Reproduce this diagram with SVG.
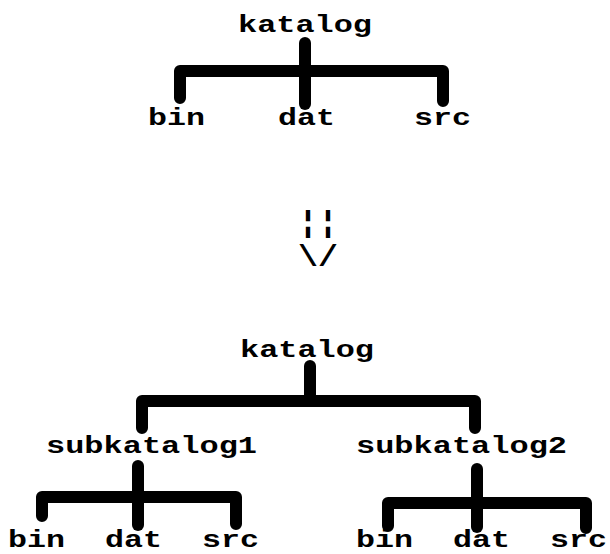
<svg xmlns="http://www.w3.org/2000/svg" width="610" height="554" viewBox="0 0 610 554">
<style>
  .t { font-family: "Liberation Mono", "DejaVu Sans Mono", monospace; font-weight: bold; font-size: 23px; fill: #000; }
  .arw { font-family: "Liberation Mono", "DejaVu Sans Mono", monospace; font-weight: bold; font-size: 30px; fill: #000; }
  .c { fill: none; stroke: #000; stroke-width: 12; stroke-linecap: round; stroke-linejoin: round; }
</style>
<rect width="610" height="554" fill="#fff"/>
<g id="connectors">
  <path class="c" d="M180 98 V71 H443 V101"/>
  <path class="c" d="M305 43 V104"/>
  <path class="c" d="M142 428 V401 H475 V428"/>
  <path class="c" d="M310 366 V401"/>
  <path class="c" d="M42 516 V497 H236 V524"/>
  <path class="c" d="M138 466 V525"/>
  <path class="c" d="M388 526 V503 H586 V528"/>
  <path class="c" d="M477 469 V527"/>
</g>
<g id="top-katalog"><text class="t" x="238" y="32" textLength="134" lengthAdjust="spacingAndGlyphs">katalog</text></g>
<g id="top-bin"><text class="t" x="148" y="125" textLength="57" lengthAdjust="spacingAndGlyphs">bin</text></g>
<g id="top-dat"><text class="t" x="278" y="125" textLength="57" lengthAdjust="spacingAndGlyphs">dat</text></g>
<g id="top-src"><text class="t" x="414" y="125" textLength="57" lengthAdjust="spacingAndGlyphs">src</text></g>
<g id="arrow">
  <text class="arw" x="298" y="232" textLength="40" lengthAdjust="spacingAndGlyphs">¦¦</text>
  <text class="arw" x="298" y="266" textLength="40" lengthAdjust="spacingAndGlyphs">\/</text>
</g>
<g id="bottom-katalog"><text class="t" x="240" y="357" textLength="134" lengthAdjust="spacingAndGlyphs">katalog</text></g>
<g id="subkatalog1"><text class="t" x="46" y="453" textLength="211" lengthAdjust="spacingAndGlyphs">subkatalog1</text></g>
<g id="subkatalog2"><text class="t" x="356" y="453" textLength="211" lengthAdjust="spacingAndGlyphs">subkatalog2</text></g>
<g id="s1-bin"><text class="t" x="8" y="547" textLength="57" lengthAdjust="spacingAndGlyphs">bin</text></g>
<g id="s1-dat"><text class="t" x="105" y="547" textLength="57" lengthAdjust="spacingAndGlyphs">dat</text></g>
<g id="s1-src"><text class="t" x="202" y="547" textLength="57" lengthAdjust="spacingAndGlyphs">src</text></g>
<g id="s2-bin"><text class="t" x="356" y="547" textLength="57" lengthAdjust="spacingAndGlyphs">bin</text></g>
<g id="s2-dat"><text class="t" x="453" y="547" textLength="57" lengthAdjust="spacingAndGlyphs">dat</text></g>
<g id="s2-src"><text class="t" x="550" y="547" textLength="57" lengthAdjust="spacingAndGlyphs">src</text></g>
</svg>
